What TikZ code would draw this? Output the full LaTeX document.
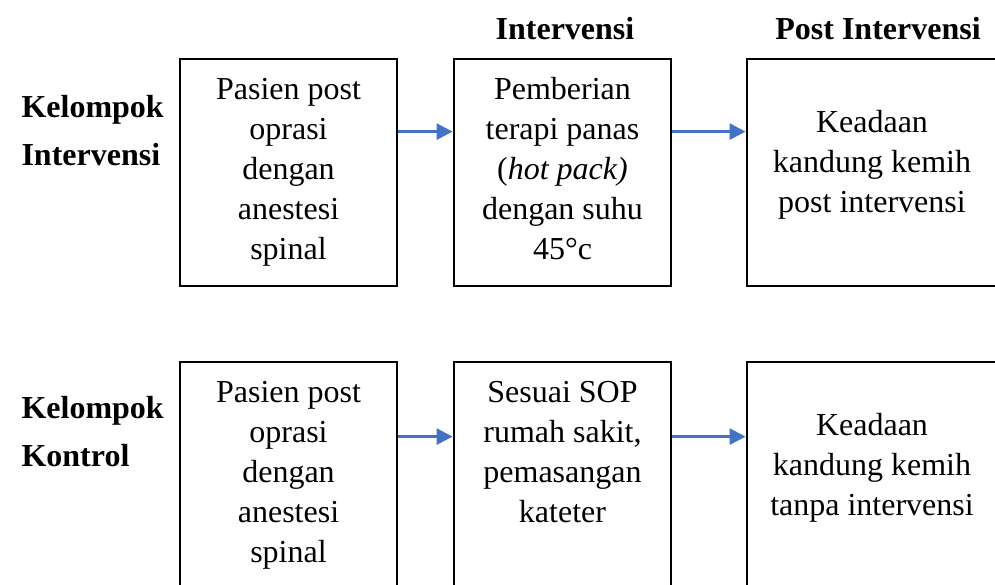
\documentclass[tikz,border=0pt]{standalone}
\usepackage{fontspec}
\setmainfont{Liberation Serif}
\usepackage{tikz}
\usetikzlibrary{arrows.meta}
\definecolor{arrowblue}{RGB}{68,114,196}

\begin{document}
\begin{tikzpicture}[x=1pt,y=-1pt,
  box/.style={draw,line width=2.8pt,minimum width=217pt,minimum height=227pt,
    inner sep=0pt,align=center,font=\fontsize{32}{40}\selectfont},
  head/.style={font=\fontsize{32}{40}\selectfont\bfseries},
  flow/.style={draw=arrowblue,line width=2.6pt,-{Triangle[length=16pt,width=16pt]}}]
\useasboundingbox (0,0) rectangle (995,585);
% column heads
\node[head,anchor=base] (hInt) at (565,40) {Intervensi};
\node[head,anchor=base] (hPost) at (878,40) {Post Intervensi};
% row labels
\node[head,anchor=base west] (gInt1) at (18,118) {Kelompok};
\node[head,anchor=base west] (gInt2) at (18,166) {Intervensi};
\node[head,anchor=base west] (gKon1) at (18,418) {Kelompok};
\node[head,anchor=base west] (gKon2) at (18,466) {Kontrol};
% intervention group
\node[box] (iPas) at (288.5,172.5) {Pasien post\\ oprasi\\ dengan\\ anestesi\\ spinal};
\node[box,text depth=9pt] (iTer) at (562.5,172.5) {Pemberian\\ terapi panas\\ (\textit{hot pack)}\\ dengan suhu\\ 45°c};
\node[box,minimum width=250pt,text depth=23pt] (iHas) at (872,172.5) {Keadaan\\ kandung kemih\\ post intervensi};
\draw[flow] ([yshift=-74pt]iPas.north east) -- ([yshift=-74pt]iTer.north west);
\draw[flow] ([yshift=-74pt]iTer.north east) -- ([yshift=-74pt]iHas.north west);
% control group
\node[box] (kPas) at (288.5,475.5) {Pasien post\\ oprasi\\ dengan\\ anestesi\\ spinal};
\node[box,text depth=47pt] (kSop) at (562.5,475.5) {Sesuai SOP\\ rumah sakit,\\ pemasangan\\ kateter};
\node[box,minimum width=250pt,text depth=23pt] (kHas) at (872,475.5) {Keadaan\\ kandung kemih\\ tanpa intervensi};
\draw[flow] ([yshift=-76pt]kPas.north east) -- ([yshift=-76pt]kSop.north west);
\draw[flow] ([yshift=-76pt]kSop.north east) -- ([yshift=-76pt]kHas.north west);
\end{tikzpicture}
\end{document}
